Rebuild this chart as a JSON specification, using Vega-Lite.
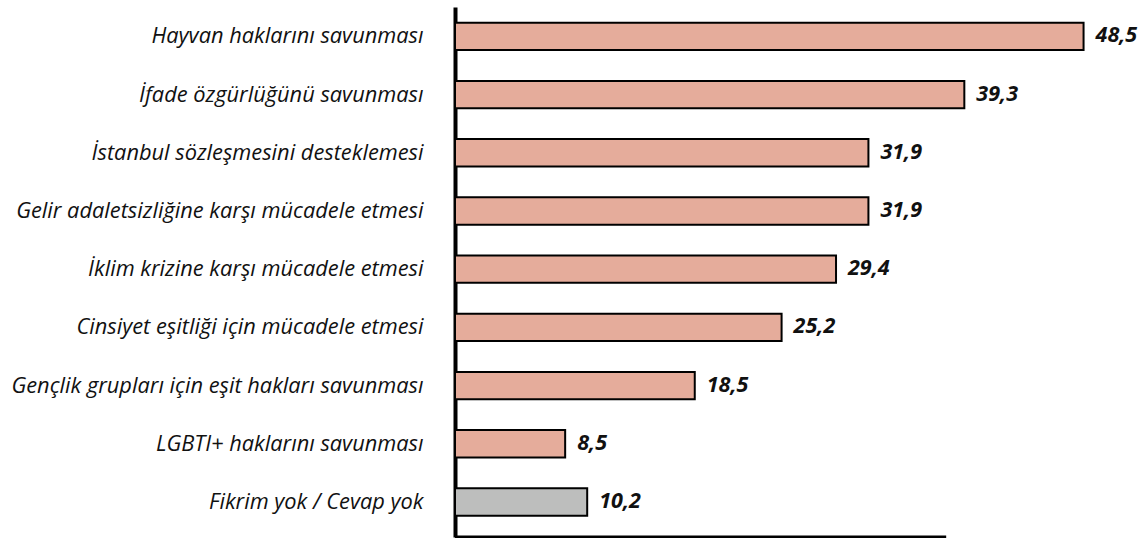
{
  "$schema": "https://vega.github.io/schema/vega-lite/v6.json",
  "autosize": {"type": "none"},
  "padding": {"left": 455, "top": 7, "right": 38, "bottom": 1},
  "width": 648,
  "height": 530,
  "background": "white",
  "config": {"view": {"stroke": null}},
  "layer": [
    {
      "data": {"name": "bars", "values": [
        {"label": "Hayvan haklarını savunması", "value": 48.5, "text": "48,5", "group": "a"},
        {"label": "İfade özgürlüğünü savunması", "value": 39.3, "text": "39,3", "group": "a"},
        {"label": "İstanbul sözleşmesini desteklemesi", "value": 31.9, "text": "31,9", "group": "a"},
        {"label": "Gelir adaletsizliğine karşı mücadele etmesi", "value": 31.9, "text": "31,9", "group": "a"},
        {"label": "İklim krizine karşı mücadele etmesi", "value": 29.4, "text": "29,4", "group": "a"},
        {"label": "Cinsiyet eşitliği için mücadele etmesi", "value": 25.2, "text": "25,2", "group": "a"},
        {"label": "Gençlik grupları için eşit hakları savunması", "value": 18.5, "text": "18,5", "group": "a"},
        {"label": "LGBTI+ haklarını savunması", "value": 8.5, "text": "8,5", "group": "a"},
        {"label": "Fikrim yok / Cevap yok", "value": 10.2, "text": "10,2", "group": "b"}
      ]},
      "layer": [
        {
          "mark": {"type": "bar", "stroke": "black", "strokeWidth": 2},
          "encoding": {
            "y": {
              "field": "label", "type": "nominal", "sort": null,
              "scale": {"paddingInner": 0.53, "paddingOuter": 0.318, "align": 0.424, "round": false},
              "axis": {
                "title": null, "ticks": false, "labelPadding": 32, "domain": true,
                "domainColor": "black", "domainWidth": 4,
                "labelFont": "Open Sans", "labelFontStyle": "italic", "labelFontSize": 21.8,
                "labelColor": "#111111", "labelLimit": 600
              }
            },
            "x": {"field": "value", "type": "quantitative", "scale": {"domain": [0, 50]}, "axis": null},
            "color": {"field": "group", "type": "nominal", "scale": {"domain": ["a", "b"], "range": ["#E5AC9B", "#BDBEBD"]}, "legend": null}
          }
        },
        {
          "mark": {"type": "text", "align": "left", "baseline": "middle", "dx": 12, "font": "Open Sans", "fontStyle": "italic", "fontWeight": "bold", "fontSize": 21.5, "color": "#111111"},
          "encoding": {
            "y": {"field": "label", "type": "nominal", "sort": null},
            "x": {"field": "value", "type": "quantitative"},
            "text": {"field": "text"}
          }
        }
      ]
    },
    {
      "data": {"values": [{"start": 0, "end": 37.9}]},
      "mark": {"type": "rule", "color": "black", "strokeWidth": 3},
      "encoding": {
        "x": {"field": "start", "type": "quantitative"},
        "x2": {"field": "end"},
        "y": {"value": "height"}
      }
    }
  ]
}
